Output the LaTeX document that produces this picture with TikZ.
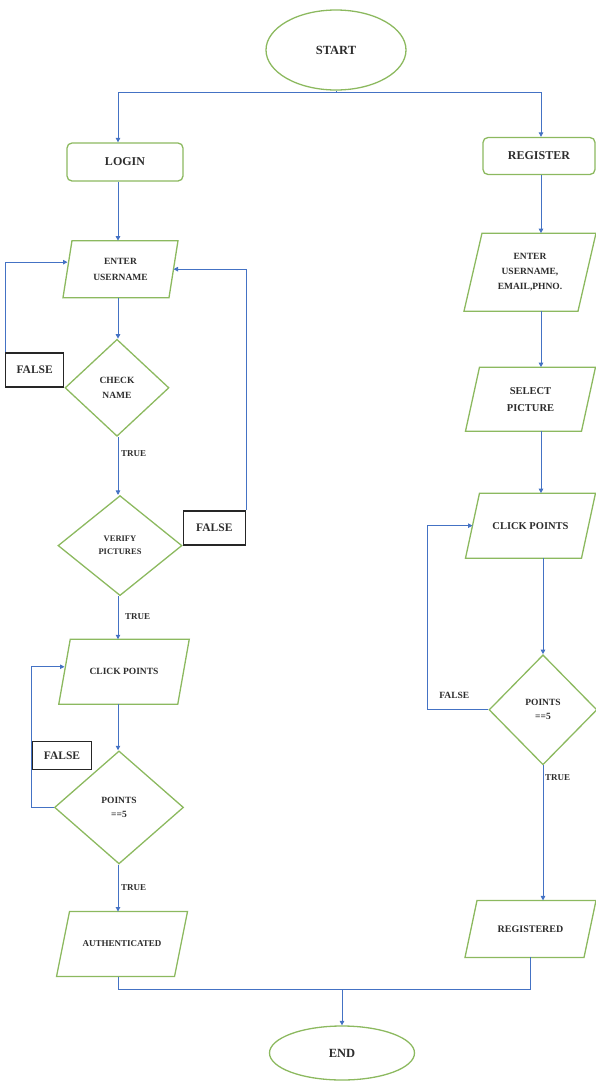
\documentclass[tikz,border=0pt]{standalone}
\usepackage{fontspec}
\setmainfont{Liberation Serif}
\definecolor{flowgreen}{RGB}{140, 185, 95}
\definecolor{flowblue}{RGB}{68, 114, 196}
\definecolor{inktext}{RGB}{45, 45, 45}
\usetikzlibrary{shapes.geometric, arrows.meta, positioning}

\begin{document}
\begin{tikzpicture}[x=1pt, y=1pt,
      terminal/.style={ellipse, draw=flowgreen, line width=1.3pt, inner sep=0pt,
                       minimum width=140pt, minimum height=80pt, text=inktext,
                       font=\fontsize{12.5}{15}\selectfont\bfseries},
      proc/.style={rectangle, draw=flowgreen, line width=1.3pt, rounded corners=5pt,
                   inner sep=0pt, minimum width=116pt, minimum height=38pt, text=inktext,
                   font=\fontsize{12}{15}\selectfont\bfseries},
      io/.style={rectangle, inner sep=1pt, outer sep=0pt, align=center, text=inktext},
      iobox/.style={draw=flowgreen, line width=1.3pt, line join=miter},
      decision/.style={diamond, draw=flowgreen, line width=1.3pt, inner sep=0pt,
                       align=center, text=inktext},
      falsebox/.style={rectangle, draw=black!85, line width=1.4pt, inner sep=0pt,
                       text=inktext, font=\fontsize{11.5}{14}\selectfont\bfseries},
      lbl/.style={text=inktext, inner sep=0pt, font=\fontsize{9}{11}\selectfont\bfseries},
      arr/.style={-{Triangle[width=4.5pt, length=4.5pt]}, flowblue, line width=0.9pt},
      ln/.style={flowblue, line width=0.9pt}
    ]
      \useasboundingbox (0,0) rectangle (595,-1082);

      % Terminals and first choice
      \node[terminal] (start) at (336,-50) {START};
      \node[proc] (login) at (125,-162) {LOGIN};
      \node[proc, minimum width=112pt, minimum height=37pt] (reg) at (539,-156) {REGISTER};

      % Left column — login flow
      \node[io, minimum width=106pt, minimum height=57pt, font=\fontsize{9.5}{16}\selectfont\bfseries,
            below=59pt of login, xshift=-4.5pt] (enter) {ENTER\\USERNAME};
      \node[decision, minimum width=104pt, minimum height=97pt, font=\fontsize{9.5}{15}\selectfont\bfseries,
            below=41pt of enter, xshift=-3.5pt] (check) {CHECK\\NAME};
      \node[decision, minimum width=124pt, minimum height=100pt, font=\fontsize{8.5}{13}\selectfont\bfseries,
            below=58pt of check, xshift=3pt] (verify) {VERIFY\\PICTURES};
      \node[io, minimum width=119pt, minimum height=65pt, font=\fontsize{9.5}{12}\selectfont\bfseries,
            below=43pt of verify, xshift=4pt] (clickl) {CLICK POINTS};
      \node[decision, minimum width=129pt, minimum height=113pt, font=\fontsize{9.5}{14}\selectfont\bfseries,
            below=46pt of clickl, xshift=-5pt] (ptsl) {POINTS\\==5};
      \node[io, minimum width=118pt, minimum height=65pt, font=\fontsize{9}{12}\selectfont\bfseries,
            below=47pt of ptsl, xshift=3pt] (auth) {AUTHENTICATED};

      % False boxes on the loops
      \node[falsebox, minimum width=58pt, minimum height=34pt, anchor=south east] (fcheck) at (check.west) {FALSE};
      \node[falsebox, minimum width=62pt, minimum height=34pt, anchor=south west] (fverify) at (verify.east) {FALSE};
      \node[falsebox, minimum width=59pt, minimum height=28pt, anchor=south west] (fpts) at ([xshift=-22pt, yshift=37pt]ptsl.west) {FALSE};

      % True labels
      \node[lbl, anchor=west] (tcheck) at ([xshift=4pt, yshift=-17pt]check.south) {TRUE};
      \node[lbl, anchor=west] (tverify) at ([xshift=5pt, yshift=-20pt]verify.south) {TRUE};
      \node[lbl, anchor=west] (tpts) at ([xshift=2pt, yshift=-23pt]ptsl.south) {TRUE};

      % Right column — register flow
      \node[io, minimum width=114pt, minimum height=78pt, font=\fontsize{9.5}{15}\selectfont\bfseries,
            below=58pt of reg, xshift=-9pt] (enter2) {ENTER\\USERNAME,\\EMAIL,PHNO.};
      \node[io, minimum width=116pt, minimum height=64pt, font=\fontsize{10.5}{17}\selectfont\bfseries,
            below=56pt of enter2, xshift=0.5pt] (select) {SELECT\\PICTURE};
      \node[io, minimum width=116pt, minimum height=65pt, font=\fontsize{10.5}{13}\selectfont\bfseries,
            below=62pt of select] (clickr) {CLICK POINTS};
      \node[decision, minimum width=108pt, minimum height=110pt, font=\fontsize{9.5}{14}\selectfont\bfseries,
            below=96pt of clickr, xshift=12.5pt] (ptsr) {POINTS\\==5};
      \node[io, minimum width=119pt, minimum height=57pt, font=\fontsize{10}{13}\selectfont\bfseries,
            below=135pt of ptsr, xshift=-12.5pt] (regd) {REGISTERED};
      \node[lbl, font=\fontsize{9.5}{12}\selectfont\bfseries] (fptsr) at ([xshift=-34pt, yshift=14pt]ptsr.west) {FALSE};
      \node[lbl, anchor=west] (tptsr) at ([xshift=2pt, yshift=-12pt]ptsr.south) {TRUE};

      % End
      \node[terminal, minimum width=145pt, minimum height=54pt] (stop) at (342,-1053) {END};

      % Parallelogram outlines of the input/output steps
      \foreach \n/\s in {enter/4.5, clickl/5.75, auth/6.5, enter2/9, select/7, clickr/7, regd/6}
        \draw[iobox] ([xshift=\s pt]\n.north west) -- ([xshift=\s pt]\n.north east)
          -- ([xshift=-\s pt]\n.south east) -- ([xshift=-\s pt]\n.south west) -- cycle;

      % Helper coordinates
      \coordinate (lcol) at (118,0);
      \coordinate (rcol) at (541,0);
      \coordinate (fork) at (336,-92);
      \coordinate (join) at (342,-989);
      \coordinate (rloop) at (427,0);

      % Arrows
      \draw[ln] (start.south) -- (fork);
      \draw[arr] (fork) -| (login.north -| lcol);
      \draw[arr] (fork) -| (reg.north -| rcol);

      \draw[arr] (login.south -| lcol) -- (enter.north -| lcol);
      \draw[arr] (enter.south -| lcol) -- (check.north -| lcol);
      \draw[arr] (check.south -| lcol) -- (verify.north -| lcol);
      \draw[arr] (verify.south -| lcol) -- (clickl.north -| lcol);
      \draw[arr] (clickl.south -| lcol) -- (ptsl.north -| lcol);
      \draw[arr] (ptsl.south -| lcol) -- (auth.north -| lcol);

      \draw[arr] (fcheck.north west) |- ([yshift=7pt]enter.west);
      \draw[arr] (fverify.north east) |- (enter.east);
      \draw[arr] (ptsl.west) -| (fpts.north west) |- ([yshift=5pt]clickl.west);

      \draw[arr] (reg.south -| rcol) -- (enter2.north -| rcol);
      \draw[arr] (enter2.south -| rcol) -- (select.north -| rcol);
      \draw[arr] (select.south -| rcol) -- (clickr.north -| rcol);
      \draw[arr] (clickr.south -| ptsr) -- (ptsr.north);
      \draw[arr] (ptsr.south) -- (regd.north -| ptsr);
      \draw[arr] (ptsr.west) -| (rloop |- clickr.west) -- (clickr.west);

      \draw[ln] (auth.south -| lcol) |- (join) -| (regd.south);
      \draw[arr] (join) -- (stop.north);

    \end{tikzpicture}
\end{document}
